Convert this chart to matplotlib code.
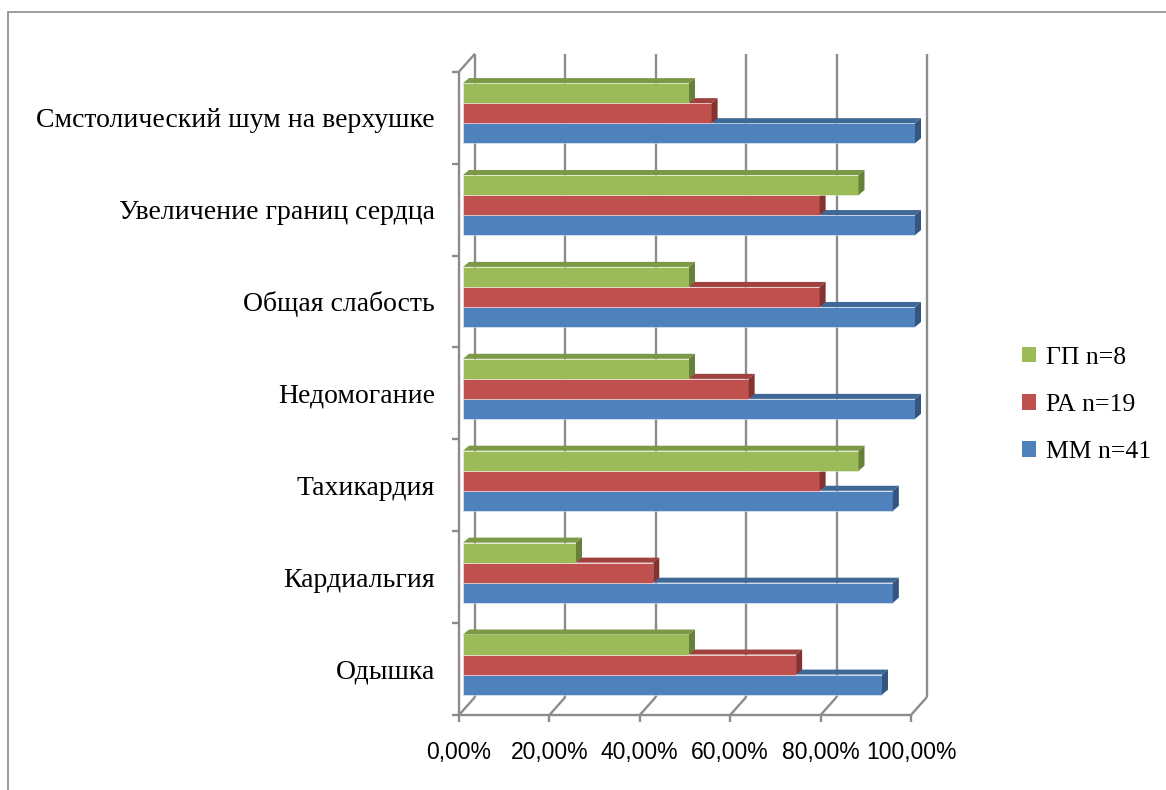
import matplotlib
matplotlib.use('Agg')
import matplotlib.pyplot as plt
from matplotlib.patches import Polygon, Patch, Rectangle

# ---------------- data ----------------
categories = ['Одышка', 'Кардиальгия', 'Тахикардия', 'Недомогание',
              'Общая слабость', 'Увеличение границ сердца',
              'Смстолический шум на верхушке']
mm_values = [92.7, 95.1, 95.1, 100.0, 100.0, 100.0, 100.0]
ra_values = [73.7, 42.1, 78.9, 63.2, 78.9, 78.9, 55.0]
gp_values = [50.0, 25.0, 87.5, 50.0, 50.0, 87.5, 50.0]
series_labels = ['ММ n=41', 'РА n=19', 'ГП n=8']
xticks = [0, 20, 40, 60, 80, 100]
xticklabels = ['0,00%', '20,00%', '40,00%', '60,00%', '80,00%', '100,00%']

# ---------------- styles ----------------
front_colors = ['#4F81BD', '#C0504D', '#9BBB59']
top_colors = ['#3F6897', '#9E413F', '#7C9A45']
side_colors = ['#33557F', '#843331', '#67803A']
grid_c = '#8C8C8C'

W, H = 1166, 790
fig = plt.figure(figsize=(W / 100, H / 100), dpi=100)
L, R, T, B = 463, 915, 67.2, 710.5
ax = fig.add_axes([L / W, 1 - B / H, (R - L) / W, (B - T) / H])
ax.set_xlim(0, 100)
ax.set_ylim(0, len(categories))
ax.axis('off')

sx = 100 / (R - L)
sy = len(categories) / (B - T)
ncat = len(categories)
front = (-4 * sx, -4.5 * sy)
back = (12 * sx, 13.5 * sy)
lw = 1.7
kw = dict(color=grid_c, lw=lw, clip_on=False, solid_capstyle='butt', zorder=1)

# back wall gridlines
for x in xticks:
    ax.plot([x + back[0]] * 2, [back[1], ncat + back[1]], **kw)
# floor
ax.plot([front[0], 100 + front[0]], [front[1]] * 2, **kw)
for x in xticks:
    ax.plot([x + front[0], x + back[0]], [front[1], back[1]], **kw)
    ax.plot([x + front[0]] * 2, [front[1], front[1] - 7 * sy], **kw)
# left side
ax.plot([front[0]] * 2, [front[1], ncat + front[1]], **kw)
ax.plot([front[0], back[0]], [ncat + front[1], ncat + back[1]], **kw)
for k in range(ncat + 1):
    ax.plot([front[0] - 7 * sx, front[0]], [k + front[1]] * 2, **kw)

# bars
h = 0.218
dx, dy = 6 * sx, 5 * sy
series = [mm_values, ra_values, gp_values]
for s, vals in enumerate(series):
    z = 3 + s
    ys = [i + 0.5 - 1.5 * h + s * h for i in range(ncat)]
    ax.barh(ys, vals, height=h, left=0, align='edge', color=front_colors[s],
            edgecolor=(1, 1, 1, 0.45), linewidth=0.7, zorder=z)
    for y0, v in zip(ys, vals):
        y1 = y0 + h
        ax.add_patch(Polygon([(0, y1), (v, y1), (v + dx, y1 + dy), (dx, y1 + dy)],
                             closed=True, facecolor=top_colors[s], edgecolor='none',
                             zorder=z, clip_on=False))
        ax.add_patch(Polygon([(v, y0), (v, y1), (v + dx, y1 + dy), (v + dx, y0 + dy)],
                             closed=True, facecolor=side_colors[s], edgecolor='none',
                             zorder=z, clip_on=False))

# category labels
for i, c in enumerate(categories):
    ax.text(front[0] - 24 * sx, i + 0.5 + front[1] - 3 * sy, c, ha='right', va='center',
            fontsize=20, family='Liberation Serif', color='black')
# x tick labels
for x, lbl in zip(xticks, xticklabels):
    ax.text(x + front[0], front[1] - 37 * sy, lbl, ha='center', va='center',
            fontsize=16.5, family='Liberation Sans', color='black')

# legend
handles = [Patch(facecolor=front_colors[s]) for s in (2, 1, 0)]
labels = [series_labels[s] for s in (2, 1, 0)]
fig.legend(handles, labels, loc='center left', bbox_to_anchor=(1022 / W, 1 - 405 / H),
           frameon=False, handlelength=0.55, handleheight=0.55, handletextpad=0.4,
           labelspacing=0.98, borderpad=0, borderaxespad=0,
           prop={'family': 'Liberation Serif', 'size': 18.5})

# outer border
fig.add_artist(Rectangle((8 / W, -0.5), 2, 1 - 12 / H + 0.5, transform=fig.transFigure,
                         fill=False, edgecolor='#8C8C8C', lw=1.2))

fig.savefig('out.png', dpi=100, facecolor='white')
